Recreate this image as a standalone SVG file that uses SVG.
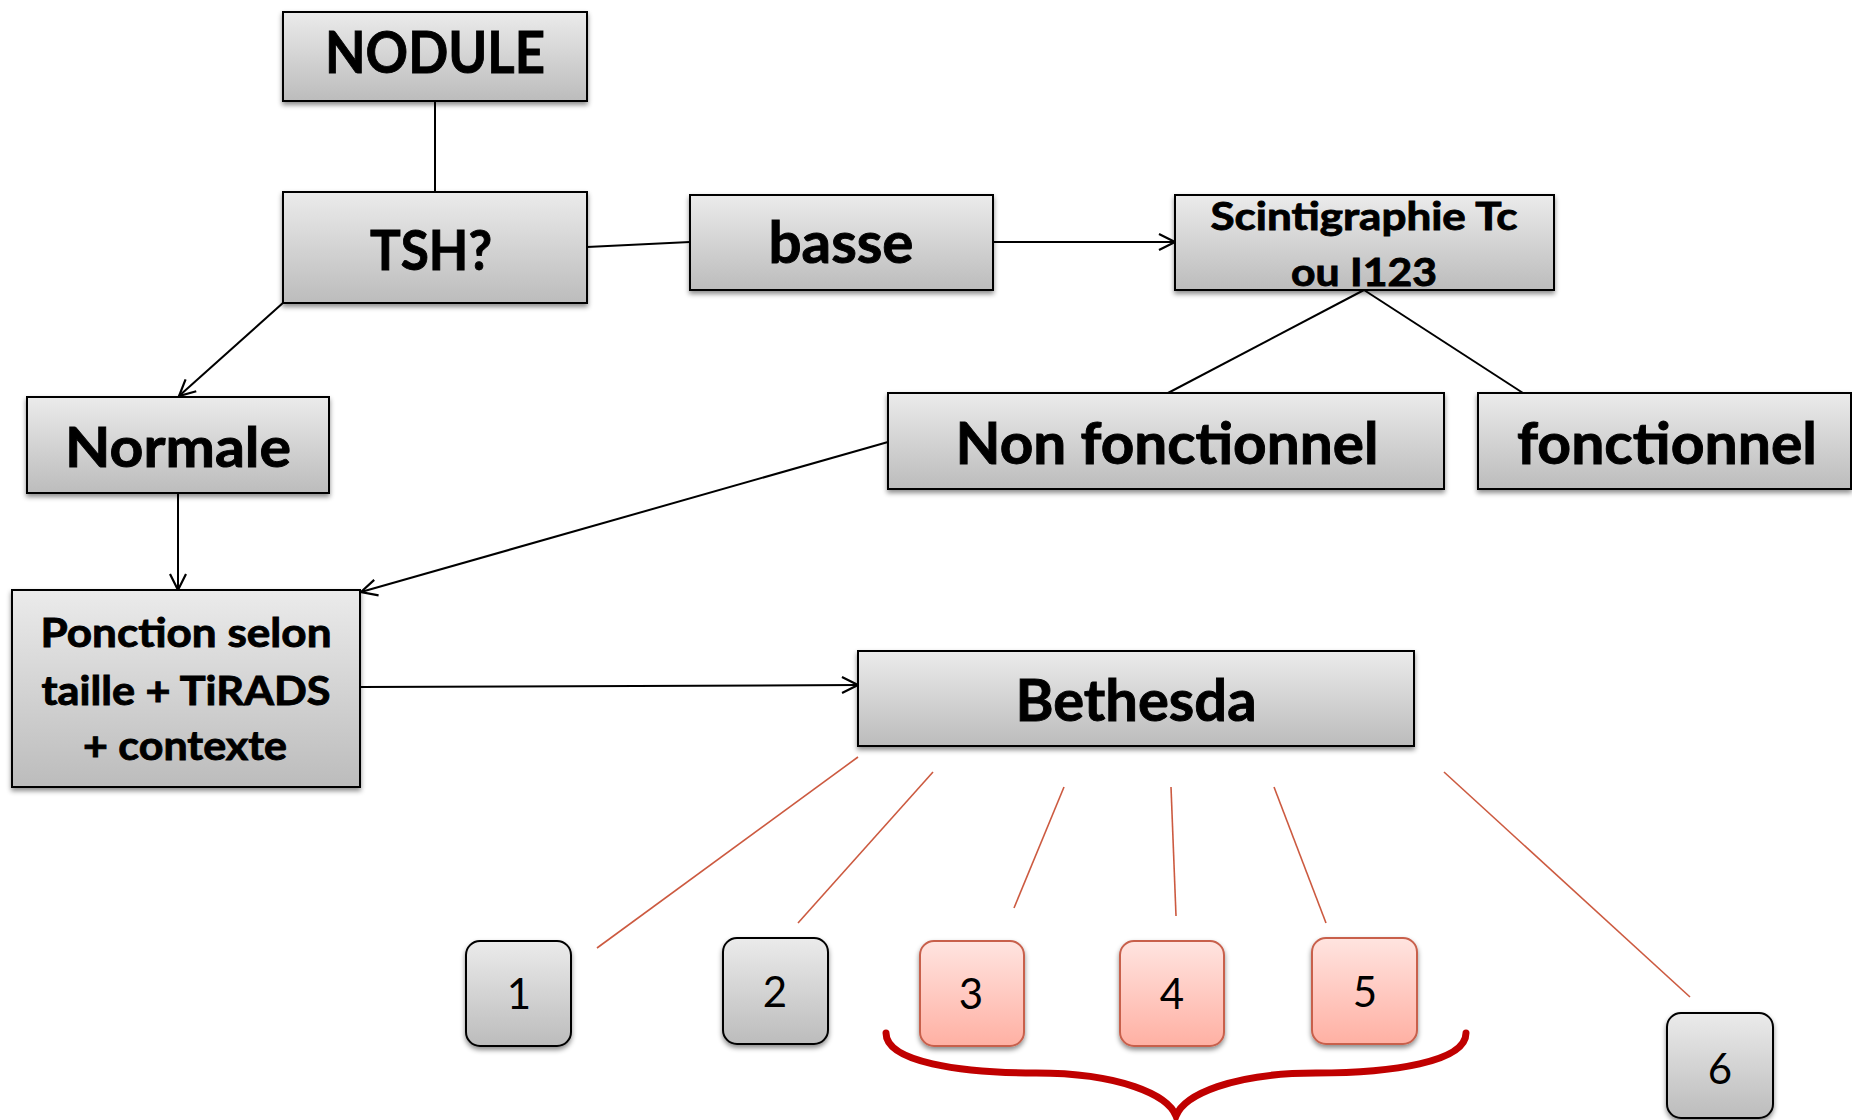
<svg xmlns="http://www.w3.org/2000/svg" width="1852" height="1120" viewBox="0 0 1852 1120">
  <defs>
    <linearGradient id="gGray" x1="0" y1="0" x2="0" y2="1">
      <stop offset="0" stop-color="#EBEBEB"/>
      <stop offset="1" stop-color="#BCBCBC"/>
    </linearGradient>
    <linearGradient id="gPink" x1="0" y1="0" x2="0" y2="1">
      <stop offset="0" stop-color="#FFE4E0"/>
      <stop offset="1" stop-color="#FFB0A3"/>
    </linearGradient>
    <filter id="shadow" x="-10%" y="-10%" width="120%" height="130%">
      <feDropShadow dx="0" dy="3" stdDeviation="2.5" flood-color="#000" flood-opacity="0.45"/>
    </filter>
    <marker id="arrow" markerUnits="userSpaceOnUse" markerWidth="22" markerHeight="22" viewBox="0 0 22 22" refX="20" refY="11" orient="auto">
      <path d="M4,3 L20,11 L4,19" fill="none" stroke="#000" stroke-width="2.2"/>
    </marker>
    <style>
      .box { fill: url(#gGray); stroke: #000; stroke-width: 2; filter: url(#shadow); }
      .cat { fill: url(#gGray); stroke: #000; stroke-width: 2; filter: url(#shadow); }
      .catHot { fill: url(#gPink); stroke: #C8604C; stroke-width: 2; filter: url(#shadow); }
      .lbl { font-family: "Lato", "Liberation Sans", sans-serif; font-weight: 700; fill: #000; stroke: #000; stroke-width: 0.9; text-anchor: middle; }
      .num { font-family: "Lato", "Liberation Sans", sans-serif; font-weight: 400; font-size: 42px; fill: #000; text-anchor: middle; }
      .link { stroke: #000; stroke-width: 2; fill: none; }
      .arr { marker-end: url(#arrow); }
      .red { stroke: #CC5A40; stroke-width: 1.6; fill: none; }
      .brace { stroke: #C00000; stroke-width: 7; fill: none; stroke-linecap: round; }
    </style>
  </defs>

  <rect width="1852" height="1120" fill="#FFFFFF"/>

  <!-- connectors -->
  <g id="connectors">
    <line class="link" x1="435" y1="101" x2="435" y2="192"/>
    <line class="link" x1="587" y1="247" x2="690" y2="242"/>
    <line class="link arr" x1="993" y1="242" x2="1175" y2="242"/>
    <line class="link" x1="1364" y1="290" x2="1168" y2="393"/>
    <line class="link" x1="1364" y1="290" x2="1523" y2="393"/>
    <line class="link arr" x1="284" y1="302" x2="179" y2="396"/>
    <line class="link arr" x1="178" y1="493" x2="178" y2="590"/>
    <line class="link arr" x1="888" y1="442" x2="361" y2="592"/>
    <line class="link arr" x1="360" y1="687" x2="858" y2="685"/>
    <!-- Bethesda categories -->
    <line class="red" x1="858" y1="757" x2="597" y2="948"/>
    <line class="red" x1="933" y1="772" x2="798" y2="923"/>
    <line class="red" x1="1064" y1="787" x2="1014" y2="908"/>
    <line class="red" x1="1171" y1="787" x2="1176" y2="916"/>
    <line class="red" x1="1274" y1="787" x2="1326" y2="923"/>
    <line class="red" x1="1444" y1="772" x2="1690" y2="997"/>
    <!-- brace under 3-4-5 -->
    <path class="brace" d="M886,1033 C886,1062 960,1073 1036,1073 C1120,1073 1168,1095 1176,1116 C1184,1095 1232,1073 1316,1073 C1392,1073 1466,1062 1466,1033"/>
  </g>

  <g id="nodule">
    <rect class="box" x="283" y="12" width="304" height="89"/>
    <text class="lbl" x="435" y="73" font-size="58" textLength="220" lengthAdjust="spacingAndGlyphs">NODULE</text>
  </g>
  <g id="tsh">
    <rect class="box" x="283" y="192" width="304" height="111"/>
    <text class="lbl" x="431" y="270" font-size="56" textLength="122" lengthAdjust="spacingAndGlyphs">TSH?</text>
  </g>
  <g id="basse">
    <rect class="box" x="690" y="195" width="303" height="95"/>
    <text class="lbl" x="841" y="263" font-size="58" textLength="145" lengthAdjust="spacingAndGlyphs">basse</text>
  </g>
  <g id="scintigraphie">
    <rect class="box" x="1175" y="195" width="379" height="95"/>
    <text class="lbl" x="1364" y="230" font-size="39" textLength="307" lengthAdjust="spacingAndGlyphs">Scintigraphie Tc</text>
    <text class="lbl" x="1364" y="286" font-size="39" textLength="146" lengthAdjust="spacingAndGlyphs">ou I123</text>
  </g>
  <g id="non-fonctionnel">
    <rect class="box" x="888" y="393" width="556" height="96"/>
    <text class="lbl" x="1167" y="464" font-size="58" textLength="423" lengthAdjust="spacingAndGlyphs">Non fonctionnel</text>
  </g>
  <g id="fonctionnel">
    <rect class="box" x="1478" y="393" width="373" height="96"/>
    <text class="lbl" x="1667" y="464" font-size="58" textLength="300" lengthAdjust="spacingAndGlyphs">fonctionnel</text>
  </g>
  <g id="normale">
    <rect class="box" x="27" y="397" width="302" height="96"/>
    <text class="lbl" x="178" y="467" font-size="56" textLength="226" lengthAdjust="spacingAndGlyphs">Normale</text>
  </g>
  <g id="ponction">
    <rect class="box" x="12" y="590" width="348" height="197"/>
    <text class="lbl" x="186" y="647" font-size="40" textLength="291" lengthAdjust="spacingAndGlyphs">Ponction selon</text>
    <text class="lbl" x="186" y="705" font-size="40" textLength="289" lengthAdjust="spacingAndGlyphs">taille + TiRADS</text>
    <text class="lbl" x="185" y="760" font-size="40" textLength="204" lengthAdjust="spacingAndGlyphs">+ contexte</text>
  </g>
  <g id="bethesda">
    <rect class="box" x="858" y="651" width="556" height="95"/>
    <text class="lbl" x="1136" y="721" font-size="58" textLength="241" lengthAdjust="spacingAndGlyphs">Bethesda</text>
  </g>

  <g id="cat1">
    <rect class="cat" x="466" y="941" width="105" height="105" rx="14"/>
    <text class="num" x="519" y="1009">1</text>
  </g>
  <g id="cat2">
    <rect class="cat" x="723" y="938" width="105" height="106" rx="14"/>
    <text class="num" x="775" y="1007">2</text>
  </g>
  <g id="cat3">
    <rect class="catHot" x="920" y="941" width="104" height="105" rx="14"/>
    <text class="num" x="971" y="1009">3</text>
  </g>
  <g id="cat4">
    <rect class="catHot" x="1120" y="941" width="104" height="105" rx="14"/>
    <text class="num" x="1172" y="1009">4</text>
  </g>
  <g id="cat5">
    <rect class="catHot" x="1312" y="938" width="105" height="106" rx="14"/>
    <text class="num" x="1365" y="1007">5</text>
  </g>
  <g id="cat6">
    <rect class="cat" x="1667" y="1013" width="106" height="105" rx="14"/>
    <text class="num" x="1720" y="1084">6</text>
  </g>
</svg>
